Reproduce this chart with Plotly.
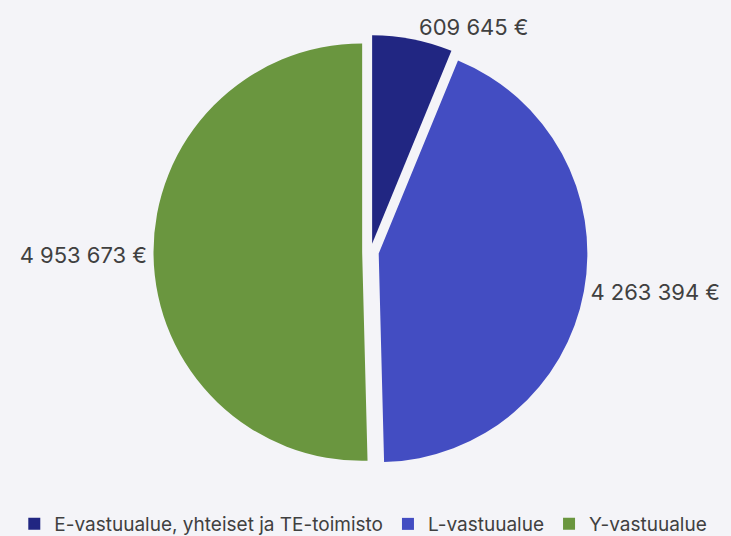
import plotly.graph_objects as go

labels = ["E-vastuualue, yhteiset ja TE-toimisto", "L-vastuualue", "Y-vastuualue"]
values = [609645, 4263394, 4953673]
colors = ["#212682", "#434DC2", "#6A963F"]

bg = "#F4F4F8"
txt_color = "#404040"


def fmt_eur(v):
    return "{:,}".format(v).replace(",", " ") + " €"


texts = [fmt_eur(v) for v in values]

fig = go.Figure(go.Pie(
    labels=labels,
    values=values,
    text=texts,
    textinfo="text",
    textposition="outside",
    automargin=False,
    sort=False,
    direction="clockwise",
    rotation=0,
    pull=[0.04, 0.04, 0.04],
    marker=dict(colors=colors, line=dict(width=0)),
    outsidetextfont=dict(size=22, color=txt_color),
    hoverinfo="label+value",
))

fig.update_layout(
    width=731,
    height=536,
    paper_bgcolor=bg,
    plot_bgcolor=bg,
    font=dict(family="Inter, Roboto, sans-serif", color=txt_color),
    # keep the plot area fixed, otherwise the pie labels squeeze it
    margin=dict(l=10, r=0, t=35, b=67, autoexpand=False),
    showlegend=True,
    legend=dict(
        orientation="h",
        x=0.49,
        xanchor="center",
        y=-0.083,
        yanchor="top",
        font=dict(size=19, color=txt_color),
        itemclick=False,
    ),
)

# drop the browser's default page margin so the figure fills the window
post = "document.body.style.margin='0';document.body.style.background='%s';" % bg
fig.write_html("out.html", post_script=post, config={"displayModeBar": False})
